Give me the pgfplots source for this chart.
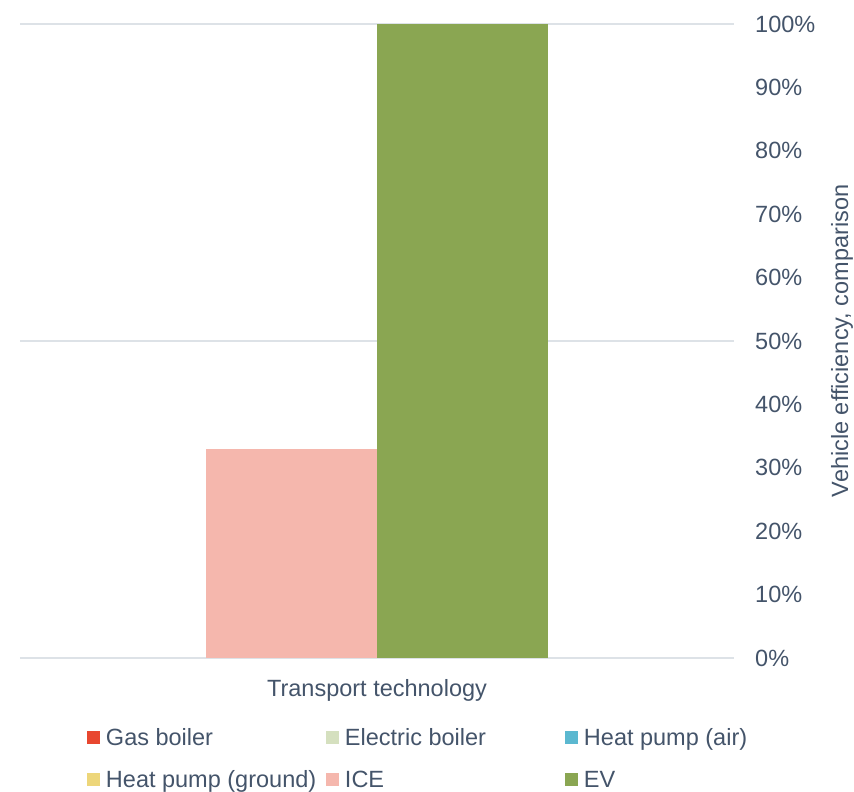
\documentclass[border=0pt]{standalone}
\usepackage{pgfplots}
\pgfplotsset{compat=1.18}
\usepackage{fontspec}
\setmainfont{Liberation Sans}
\definecolor{txt}{HTML}{44546A}
\definecolor{gridc}{HTML}{DDE2E7}
\definecolor{gasc}{HTML}{E8472F}
\definecolor{elec}{HTML}{D5E0BF}
\definecolor{hpair}{HTML}{5BB8D0}
\definecolor{hpgr}{HTML}{EDD67A}
\definecolor{ice}{HTML}{F5B7AD}
\definecolor{evc}{HTML}{8AA652}
\newcommand{\fs}{\fontsize{23.5}{28}\selectfont}
\begin{document}
\begin{tikzpicture}[font=\fs, text=txt]
\useasboundingbox (0pt,0pt) rectangle (854pt,792pt);
\begin{axis}[
  name=ax,
  at={(20pt,134pt)}, anchor=south west,
  scale only axis, width=714pt, height=634pt,
  xmin=0, xmax=714, ymin=0, ymax=100,
  axis line style={draw=none},
  major tick length=0pt,
  /pgf/number format/assume math mode=true,
  tick label style={font=\fs, text=txt},
  xtick={357}, xticklabels={Transport technology},
  xticklabel style={anchor=base, inner sep=0pt, yshift=-39pt},
  ytick={0,50,100}, yticklabels={0\%,50\%,100\%},
  extra y ticks={10,20,30,40,60,70,80,90},
  extra y tick labels={10\%,20\%,30\%,40\%,60\%,70\%,80\%,90\%},
  extra y tick style={grid=none},
  yticklabel pos=right,
  yticklabel style={anchor=west, inner sep=0pt, xshift=21pt},
  ymajorgrids, grid style={color=gridc, line width=2pt},
  legend columns=3,
  legend image code/.code={\fill[#1, draw=none] (0pt,-6.5pt) rectangle (13pt,6.5pt);},
  legend style={draw=none, fill=none, inner sep=0pt, outer sep=0pt,
    at={(0.0938,-0.1041)}, anchor=north west,
    font=\fs, text=txt, row sep=14.8pt,
    nodes={inner sep=0pt, anchor=west, text height=22pt, text depth=5.2pt},
    /tikz/every odd column/.append style={column sep=6pt},
    /tikz/every even column/.append style={column sep=0pt}},
]
\addlegendimage{fill=gasc}
\addlegendentry{\makebox[220pt][l]{Gas boiler}}
\addlegendimage{fill=elec}
\addlegendentry{\makebox[220pt][l]{Electric boiler}}
\addlegendimage{fill=hpair}
\addlegendentry{\makebox[220pt][l]{Heat pump (air)}}
\addlegendimage{fill=hpgr}
\addlegendentry{\makebox[220pt][l]{Heat pump (ground)}}
\addplot[ybar, bar width=171, bar shift=0pt, fill=ice, draw=none] coordinates {(271.5,33)};
\addlegendentry{\makebox[220pt][l]{ICE}}
\addplot[ybar, bar width=171, bar shift=0pt, fill=evc, draw=none] coordinates {(442.5,100)};
\addlegendentry{\makebox[220pt][l]{EV}}
\end{axis}
\node[rotate=90, anchor=base, inner sep=0pt, font=\fs, text=txt] at ([xshift=114pt]ax.east) {Vehicle efficiency, comparison};
\end{tikzpicture}
\end{document}
